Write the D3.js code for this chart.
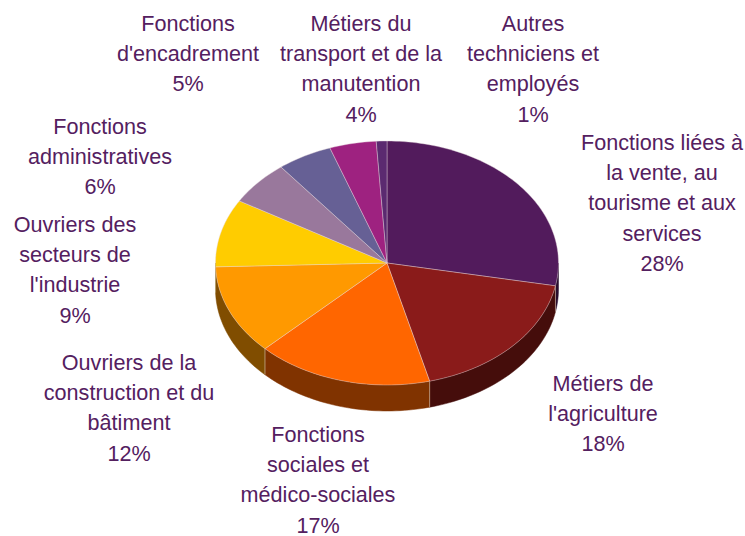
<!DOCTYPE html>
<html lang="fr">
<head>
<meta charset="utf-8">
<title>Métiers</title>
<script src="https://cdn.jsdelivr.net/npm/d3@7"></script>
<style>
  html, body { margin: 0; background: white; overflow: hidden; }
  text { font-family: "Liberation Sans", Arial, sans-serif; font-size: 21.6px; fill: #54205f; text-anchor: middle; }
</style>
</head>
<body>
<div id="chart"></div>
<script>
// clockwise from 12 o'clock; shares read from the slice edges, labels as printed
var labelLines = [
  ["Fonctions liées à", "la vente, au", "tourisme et aux", "services"],
  ["Métiers de", "l'agriculture"],
  ["Fonctions", "sociales et", "médico-sociales"],
  ["Ouvriers de la", "construction et du", "bâtiment"],
  ["Ouvriers des", "secteurs de", "l'industrie"],
  ["Fonctions", "administratives"],
  ["Fonctions", "d'encadrement"],
  ["Métiers du", "transport et de la", "manutention"],
  ["Autres", "techniciens et", "employés"]
];
var shares = [28, 18, 16.6, 11.9, 9, 5.9, 5.2, 4.4, 1];
var percents = ["28%", "18%", "17%", "12%", "9%", "6%", "5%", "4%", "1%"];
var topColors = ["#521b5c", "#8a1b1a", "#ff6600", "#ff9900", "#ffcc00", "#99789c", "#666095", "#9e2280", "#5b2a70"];
var wallColors = ["#290e2e", "#450d0b", "#803300", "#804d00", "#806600", "#4d3c4e", "#33304a", "#4f1140", "#2e1538"];
var labelX = [662, 603, 318, 129, 75, 100, 188, 361, 533];
var labelY = [143, 384, 435, 363, 225, 127, 24, 24, 24];

var width = 745, height = 536;
var cx = 387, cy = 263, rx = 171.5, ry = 122, depth = 26;
var lineStep = 30.2;

var svg = d3.select("#chart").append("svg")
  .attr("width", width)
  .attr("height", height);

var pie = d3.pie().sort(null);
var slices = pie(shares);

// unit circle squashed onto the tilted ellipse
var xScale = d3.scaleLinear().domain([-1, 1]).range([cx - rx, cx + rx]);
var yScale = d3.scaleLinear().domain([-1, 1]).range([cy - ry, cy + ry]);
function px(a) { return xScale(Math.sin(a)); }
function py(a) { return yScale(-Math.cos(a)); }

function arcAngles(a0, a1) {
  var n = Math.max(2, Math.ceil((a1 - a0) * 40));
  return d3.range(n + 1).map(function(i) { return a0 + (a1 - a0) * i / n; });
}

var line = d3.line();

// side walls, only the part of each slice facing the viewer
var wall = svg.append("g");
slices.forEach(function(d, i) {
  var a0 = Math.max(d.startAngle, Math.PI / 2);
  var a1 = Math.min(d.endAngle, Math.PI * 1.5);
  if (a1 <= a0) return;
  var angles = arcAngles(a0, a1);
  var pts = angles.map(function(a) { return [px(a), py(a)]; });
  var low = angles.slice().reverse().map(function(a) { return [px(a), py(a) + depth]; });
  wall.append("path")
    .attr("d", line(pts.concat(low)) + "Z")
    .attr("fill", wallColors[i])
    .attr("stroke", wallColors[i])
    .attr("stroke-width", 0.5);
  if (d.startAngle > Math.PI / 2 && d.startAngle < Math.PI * 1.5) {
    wall.append("line")
      .attr("x1", px(d.startAngle)).attr("y1", py(d.startAngle))
      .attr("x2", px(d.startAngle)).attr("y2", py(d.startAngle) + depth)
      .attr("stroke", "#d8c8b8").attr("stroke-width", 0.6);
  }
});

// top face
var faces = svg.append("g");
slices.forEach(function(d, i) {
  var pts = arcAngles(d.startAngle, d.endAngle).map(function(a) { return [px(a), py(a)]; });
  faces.append("path")
    .attr("d", line([[cx, cy]].concat(pts)) + "Z")
    .attr("fill", topColors[i])
    .attr("stroke", "#e6d6dc")
    .attr("stroke-width", 0.4);
});

// labels, percent on the last line
var labels = svg.append("g");
labelLines.forEach(function(lines, i) {
  var t = labels.append("text").attr("transform", "translate(" + labelX[i] + "," + labelY[i] + ")");
  lines.concat([percents[i]]).forEach(function(s, j) {
    t.append("tspan").attr("x", 0).attr("y", j * lineStep + 7).text(s);
  });
});
</script>
</body>
</html>
